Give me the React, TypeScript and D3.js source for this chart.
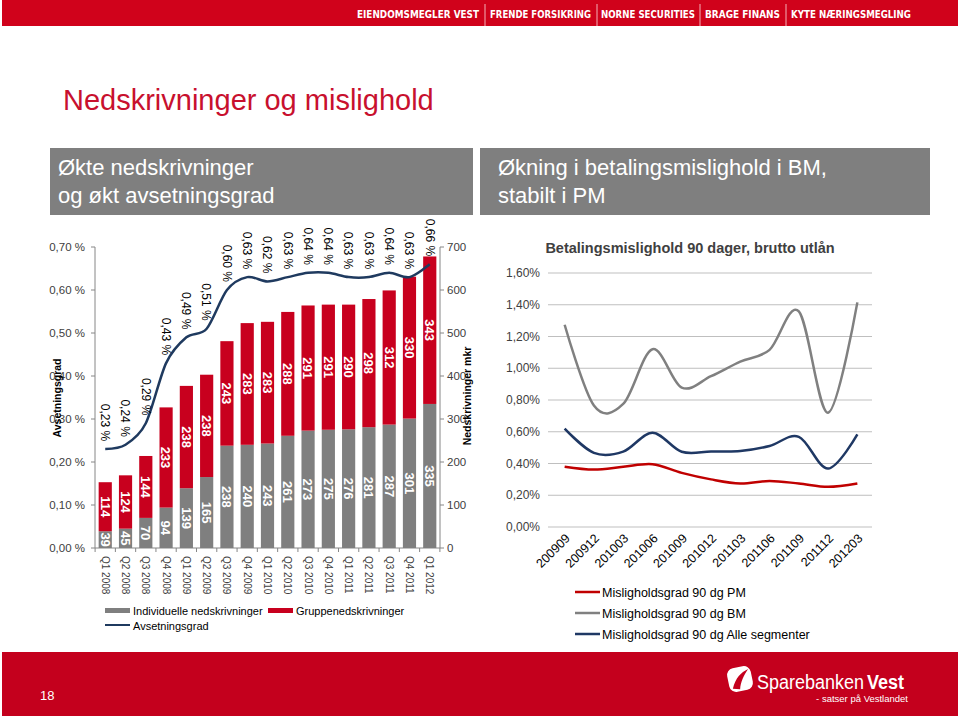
import * as d3 from "d3";

// ---- data: left chart (quarters) ----
const quarters = [
  "Q1 2008", "Q2 2008", "Q3 2008", "Q4 2008",
  "Q1 2009", "Q2 2009", "Q3 2009", "Q4 2009",
  "Q1 2010", "Q2 2010", "Q3 2010", "Q4 2010",
  "Q1 2011", "Q2 2011", "Q3 2011", "Q4 2011",
  "Q1 2012",
];
const individuelle = [39, 45, 70, 94, 139, 165, 238, 240, 243, 261, 273, 275, 276, 281, 287, 301, 335];
const gruppe = [114, 124, 144, 233, 238, 238, 243, 283, 283, 288, 291, 291, 290, 298, 312, 330, 343];
const avsetningsgrad = [0.23, 0.24, 0.29, 0.43, 0.49, 0.51, 0.6, 0.63, 0.62, 0.63, 0.64, 0.64, 0.63, 0.63, 0.64, 0.63, 0.66];
const leftTicks = [0, 0.1, 0.2, 0.3, 0.4, 0.5, 0.6, 0.7];
const rightTicks = [0, 100, 200, 300, 400, 500, 600, 700];

// ---- data: right chart (months) ----
const months = ["200909", "200912", "201003", "201006", "201009", "201012", "201103", "201106", "201109", "201112", "201203"];
const pm = [0.38, 0.362, 0.379, 0.396, 0.341, 0.3, 0.274, 0.29, 0.274, 0.253, 0.274];
const bm = [1.274, 0.765, 0.775, 1.12, 0.878, 0.95, 1.042, 1.116, 1.358, 0.72, 1.415];
const alle = [0.62, 0.467, 0.475, 0.594, 0.474, 0.476, 0.478, 0.51, 0.568, 0.368, 0.583];
const pctTicks = [0, 0.2, 0.4, 0.6, 0.8, 1.0, 1.2, 1.4, 1.6];

const topLinks = ["EIENDOMSMEGLER VEST", "FRENDE FORSIKRING", "NORNE SECURITIES", "BRAGE FINANS", "KYTE NÆRINGSMEGLING"];

const FONT = "'Liberation Sans', Arial, sans-serif";
const RED = "#c8001e";
const GREY_BAR = "#7f7f7f";
const NAVY = "#1f3a5f";
const TXT = "#404040";

const comma = (s: string) => s.replace(".", ",");

function LeftChart() {
  const x = d3.scaleBand<string>().domain(quarters).range([95, 440]).paddingInner(0.35).paddingOuter(0.18);
  const yL = d3.scaleLinear().domain([0, 0.7]).range([548, 247]);
  const yR = d3.scaleLinear().domain([0, 700]).range([548, 247]);
  const bw = x.bandwidth();
  const cx = (q: string) => (x(q) ?? 0) + bw / 2;

  const line = d3
    .line<number>()
    .x((_, i) => cx(quarters[i]))
    .y((d) => yL(d))
    .curve(d3.curveCardinal.tension(0.1));

  const step = x.step();
  const bounds = d3.range(quarters.length + 1).map((i) => (x(quarters[0]) ?? 0) - (step - bw) / 2 + i * step);

  return (
    <g fontFamily={FONT}>
      {/* left axis */}
      <line x1={95} x2={95} y1={yL(0.7)} y2={yL(0)} stroke="#868686" />
      {leftTicks.map((t) => (
        <g key={"l" + t}>
          <line x1={91} x2={95} y1={yL(t)} y2={yL(t)} stroke="#868686" />
          <text x={85} y={yL(t)} dy="0.35em" textAnchor="end" fontSize={11.5} fill={TXT}>
            {comma(d3.format(".2f")(t)) + " %"}
          </text>
        </g>
      ))}
      {/* right axis */}
      <line x1={440} x2={440} y1={yR(700)} y2={yR(0)} stroke="#868686" />
      {rightTicks.map((t) => (
        <g key={"r" + t}>
          <line x1={440} x2={444} y1={yR(t)} y2={yR(t)} stroke="#868686" />
          <text x={447} y={yR(t)} dy="0.35em" fontSize={11.5} fill={TXT}>
            {t}
          </text>
        </g>
      ))}
      {/* x axis */}
      <line x1={95} x2={440} y1={548} y2={548} stroke="#868686" />
      {bounds.map((b, i) => (
        <line key={"b" + i} x1={b} x2={b} y1={548} y2={552} stroke="#868686" />
      ))}
      {quarters.map((q) => (
        <text key={"q" + q} transform={`translate(${cx(q)},556) rotate(90)`} dy="0.35em" fontSize={10} fill={TXT}>
          {q}
        </text>
      ))}

      {/* bars */}
      {quarters.map((q, i) => {
        const a = individuelle[i];
        const g = gruppe[i];
        return (
          <g key={"bar" + q}>
            <rect x={x(q)} width={bw} y={yR(a)} height={yR(0) - yR(a)} fill={GREY_BAR} />
            <rect x={x(q)} width={bw} y={yR(a + g)} height={yR(a) - yR(a + g)} fill={RED} />
            <text
              transform={`translate(${cx(q)},${(yR(0) + yR(a)) / 2}) rotate(90)`}
              textAnchor="middle"
              dy="0.36em"
              fontSize={13}
              fontWeight="bold"
              fill="#fff"
            >
              {a}
            </text>
            <text
              transform={`translate(${cx(q)},${(yR(a) + yR(a + g)) / 2}) rotate(90)`}
              textAnchor="middle"
              dy="0.36em"
              fontSize={13}
              fontWeight="bold"
              fill="#fff"
            >
              {g}
            </text>
          </g>
        );
      })}

      {/* avsetningsgrad line */}
      <path d={line(avsetningsgrad) ?? ""} fill="none" stroke={NAVY} strokeWidth={2.5} />
      {avsetningsgrad.map((v, i) => (
        <text
          key={"av" + i}
          transform={`translate(${cx(quarters[i])},${yL(v) - 8}) rotate(90)`}
          textAnchor="end"
          dy="0.35em"
          fontSize={12}
          fill="#000"
        >
          {comma(d3.format(".2f")(v)) + " %"}
        </text>
      ))}

      {/* axis titles */}
      <text transform="translate(57,398) rotate(-90)" textAnchor="middle" dy="0.35em" fontSize={10.5} fontWeight="bold" fill="#000">
        Avsetningsgrad
      </text>
      <text transform="translate(467,396) rotate(-90)" textAnchor="middle" dy="0.35em" fontSize={10.5} fontWeight="bold" fill="#000">
        Nedskrivninger mkr
      </text>

      {/* legend */}
      <rect x={105} y={608} width={25} height={5} fill={GREY_BAR} />
      <text x={133} y={614.5} fontSize={11} fill="#000">Individuelle nedskrivninger</text>
      <rect x={268} y={608} width={25} height={5} fill={RED} />
      <text x={296} y={614.5} fontSize={11} fill="#000">Gruppenedskrivninger</text>
      <line x1={105} x2={130} y1={625} y2={625} stroke={NAVY} strokeWidth={2} />
      <text x={133} y={629.5} fontSize={11} fill="#000">Avsetningsgrad</text>
    </g>
  );
}

function RightChart() {
  const x = d3.scalePoint<string>().domain(months).range([550, 872]).padding(0.5);
  const y = d3.scaleLinear().domain([0, 1.6]).range([527, 273]);
  const mk = (vals: number[]) =>
    d3
      .line<number>()
      .x((_, i) => x(months[i]) ?? 0)
      .y((d) => y(d))
      .curve(d3.curveCardinal.tension(0))(vals) ?? "";

  const series = [
    { name: "Misligholdsgrad 90 dg PM", vals: pm, color: "#c00000" },
    { name: "Misligholdsgrad 90 dg BM", vals: bm, color: "#808080" },
    { name: "Misligholdsgrad 90 dg Alle segmenter", vals: alle, color: "#1f3864" },
  ];

  return (
    <g fontFamily={FONT}>
      <text x={690} y={253} textAnchor="middle" fontSize={14.5} fontWeight="bold" fill={TXT}>
        Betalingsmislighold 90 dager, brutto utlån
      </text>
      {pctTicks.map((t) => (
        <g key={"g" + t}>
          <line x1={548} x2={872} y1={y(t)} y2={y(t)} stroke="#bfbfbf" strokeWidth={1} />
          <text x={540} y={y(t)} dy="0.35em" textAnchor="end" fontSize={12} fill={TXT}>
            {comma(d3.format(".2f")(t)) + "%"}
          </text>
        </g>
      ))}
      {months.map((m) => (
        <text
          key={"m" + m}
          transform={`translate(${(x(m) ?? 0) + 3},536) rotate(-45)`}
          textAnchor="end"
          dy="0.35em"
          fontSize={12.5}
          fill="#000"
        >
          {m}
        </text>
      ))}
      {series.map((s) => (
        <path key={s.name} d={mk(s.vals)} fill="none" stroke={s.color} strokeWidth={2.5} />
      ))}
      {series.map((s, i) => (
        <g key={"leg" + s.name}>
          <line x1={575} x2={600} y1={592 + i * 21} y2={592 + i * 21} stroke={s.color} strokeWidth={2.5} />
          <text x={602} y={596.5 + i * 21} fontSize={12.5} fill="#000">
            {s.name}
          </text>
        </g>
      ))}
    </g>
  );
}

function Frame() {
  const linkX = [
    [357, 479],
    [490, 591],
    [601, 695],
    [705, 780],
    [791, 911],
  ];
  const seps = [485, 597, 700, 786];
  return (
    <g fontFamily={FONT}>
      {/* top band */}
      <rect x={2} y={0} width={956} height={26} fill="#d0021b" />
      {topLinks.map((t, i) => (
        <text
          key={t}
          x={linkX[i][0]}
          y={18}
          fontSize={10.5}
          fontWeight="bold"
          fill="#fff"
          textLength={linkX[i][1] - linkX[i][0]}
          lengthAdjust="spacingAndGlyphs"
          fontFamily="'Liberation Sans Narrow', 'DejaVu Sans Condensed', sans-serif"
        >
          {t}
        </text>
      ))}
      {seps.map((s) => (
        <line key={"s" + s} x1={s} x2={s} y1={4} y2={26} stroke="#f3b0b8" strokeWidth={1} />
      ))}

      {/* title */}
      <text x={63} y={110} fontSize={29} fill="#c8102e">
        Nedskrivninger og mislighold
      </text>

      {/* headline boxes */}
      <rect x={50} y={148} width={423} height={67} fill="#7f7f7f" />
      <text x={58} y={175} fontSize={22} fill="#fff">Økte nedskrivninger</text>
      <text x={58} y={203} fontSize={22} fill="#fff">og økt avsetningsgrad</text>
      <rect x={480} y={148} width={450} height={67} fill="#7f7f7f" />
      <text x={498} y={175} fontSize={22} fill="#fff">Økning i betalingsmislighold i BM,</text>
      <text x={498} y={203} fontSize={22} fill="#fff">stabilt i PM</text>

      {/* bottom band */}
      <rect x={2} y={652} width={956} height={64} fill="#c4001d" />
      <text x={40} y={700} fontSize={13} fill="#fff">18</text>
      <g transform="translate(740,679) rotate(-12)">
        <rect x={-12} y={-12} width={24} height={24} rx={7} fill="#fff" />
        <path d="M-9,8 C-4,-2 2,-6 10,-8 C4,-2 0,3 -2,10 Z" fill="#c4001d" />
      </g>
      <text x={757} y={686} fontSize={18} fill="#fff" transform="translate(0,-114) scale(1,1.17)">
        Sparebanken
      </text>
      <text x={867} y={686} fontSize={18} fontWeight="bold" fill="#fff" transform="translate(0,-114) scale(1,1.17)">
        Vest
      </text>
      <text x={908} y={702} fontSize={9.5} fill="#fff" textAnchor="end">
        - satser på Vestlandet
      </text>
    </g>
  );
}

export default function App() {
  return (
    <svg
      width={960}
      height={716}
      style={{ position: "absolute", left: 0, top: 0, display: "block", background: "#fff" }}
    >
      <Frame />
      <LeftChart />
      <RightChart />
    </svg>
  );
}
